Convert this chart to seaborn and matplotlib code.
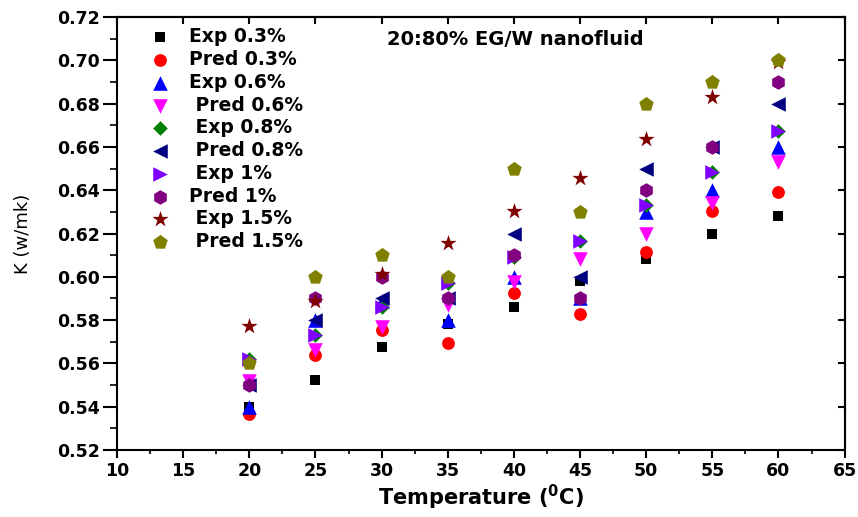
import matplotlib
matplotlib.use('Agg')
import matplotlib.pyplot as plt
import seaborn as sns
from matplotlib.ticker import MultipleLocator, NullFormatter

# ---- data ----
temperature = [20, 25, 30, 35, 40, 45, 50, 55, 60]
exp_03 = [0.540, 0.5525, 0.5675, 0.578, 0.586, 0.598, 0.608, 0.620, 0.628]
pred_03 = [0.5365, 0.564, 0.5755, 0.5695, 0.5925, 0.583, 0.6115, 0.6305, 0.639]
exp_06 = [0.540, 0.580, 0.589, 0.580, 0.600, 0.590, 0.630, 0.640, 0.660]
pred_06 = [0.552, 0.566, 0.577, 0.587, 0.5975, 0.608, 0.620, 0.634, 0.653]
exp_08 = [0.562, 0.573, 0.586, 0.597, 0.609, 0.6165, 0.633, 0.6485, 0.6675]
pred_08 = [0.550, 0.580, 0.590, 0.590, 0.620, 0.600, 0.650, 0.660, 0.680]
exp_1 = [0.562, 0.573, 0.586, 0.597, 0.609, 0.6165, 0.633, 0.6485, 0.6675]
pred_1 = [0.550, 0.590, 0.600, 0.590, 0.610, 0.590, 0.640, 0.660, 0.690]
exp_15 = [0.5775, 0.589, 0.6015, 0.6155, 0.6305, 0.6455, 0.6635, 0.683, 0.699]
pred_15 = [0.560, 0.600, 0.610, 0.600, 0.650, 0.630, 0.680, 0.690, 0.700]

series_labels = ['Exp 0.3%', 'Pred 0.3%', 'Exp 0.6%', ' Pred 0.6%', ' Exp 0.8%',
                 ' Pred 0.8%', ' Exp 1%', 'Pred 1%', ' Exp 1.5%', ' Pred 1.5%']
x_ticks = [10, 15, 20, 25, 30, 35, 40, 45, 50, 55, 60, 65]
y_ticks = [0.52, 0.54, 0.56, 0.58, 0.60, 0.62, 0.64, 0.66, 0.68, 0.70, 0.72]
title_text = '20:80% EG/W nanofluid'

# ---- styles ----
series_values = [exp_03, pred_03, exp_06, pred_06, exp_08, pred_08, exp_1, pred_1, exp_15, pred_15]
markers = ['s', 'o', '^', 'v', 'D', '<', '>', 'h', '*', 'p']
colors = ['#000000', '#FF0000', '#0000FF', '#FF00FF', '#008000', '#000080',
          '#8000FF', '#800080', '#800000', '#808000']
sizes = [60, 85, 110, 110, 55, 110, 110, 110, 150, 120]

sns.set_theme(style='ticks')
plt.rcParams['font.family'] = ['DejaVu Sans']
plt.rcParams['mathtext.fontset'] = 'dejavusans'
plt.rcParams['text.color'] = 'black'
plt.rcParams['axes.labelcolor'] = 'black'
plt.rcParams['xtick.color'] = 'black'
plt.rcParams['ytick.color'] = 'black'
plt.rcParams['axes.edgecolor'] = 'black'

fig = plt.figure(figsize=(8.58, 5.17), dpi=100)
ax = fig.add_axes([0.1364, 0.1296, 0.848, 0.8375])

for lab, vals, mk, col, sz in zip(series_labels, series_values, markers, colors, sizes):
    sns.scatterplot(x=temperature, y=vals, marker=mk, color=col, s=sz,
                    linewidth=0, label=lab, ax=ax)

ax.set_xlim(10, 65)
ax.set_ylim(0.52, 0.72)
ax.set_xticks(x_ticks)
ax.set_yticks(y_ticks)
ax.set_yticklabels([f'{v:.2f}' for v in y_ticks])
ax.xaxis.set_minor_locator(MultipleLocator(2.5))
ax.yaxis.set_minor_locator(MultipleLocator(0.01))

for sp in ax.spines.values():
    sp.set_visible(True)
    sp.set_linewidth(1.5)
    sp.set_color('black')

ax.tick_params(axis='x', which='major', direction='out', length=6, width=1.5,
               labelsize=12.5, pad=3, colors='black')
ax.tick_params(axis='x', which='minor', direction='out', length=3, width=1.2)
ax.tick_params(axis='y', which='major', direction='out', length=10, width=1.5,
               labelsize=12.5, pad=2, colors='black')
ax.tick_params(axis='y', which='minor', direction='out', length=5, width=1.2)
for lbl in ax.get_xticklabels() + ax.get_yticklabels():
    lbl.set_fontweight('bold')

secx = ax.secondary_xaxis('top')
secx.set_xticks(x_ticks)
secx.xaxis.set_major_formatter(NullFormatter())
secx.tick_params(direction='in', length=5, width=1.5)
secx.spines['top'].set_linewidth(1.5)
secy = ax.secondary_yaxis('right')
secy.set_yticks(y_ticks)
secy.yaxis.set_major_formatter(NullFormatter())
secy.tick_params(direction='in', length=5, width=1.5)
secy.spines['right'].set_linewidth(1.5)

ax.set_xlabel(r'Temperature ($\mathbf{^0}$C)', fontsize=15, fontweight='bold',
              labelpad=2, color='black')
ax.set_ylabel('K (w/mk)', fontsize=13, labelpad=18, color='black')

ax.text(0.547, 0.947, title_text, transform=ax.transAxes, ha='center', va='center',
        fontsize=14, fontweight='bold', color='black')

leg = ax.legend(loc='upper left', bbox_to_anchor=(0.03, 1.0), frameon=False,
                prop={'weight': 'bold', 'size': 13.5}, labelspacing=0.2,
                handletextpad=0.9, borderaxespad=0.15, handlelength=1.2)
for t in leg.get_texts():
    t.set_color('black')

fig.savefig('out.png', dpi=100)
